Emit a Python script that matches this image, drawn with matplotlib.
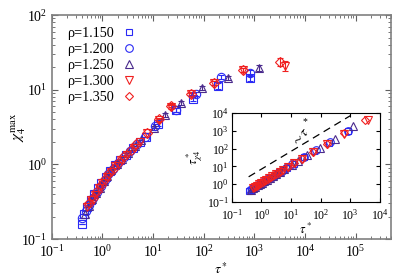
import numpy as np
import matplotlib.pyplot as plt
from matplotlib.lines import Line2D

plt.rcParams['font.family'] = ['Liberation Serif', 'DejaVu Serif']
plt.rcParams['mathtext.fontset'] = 'stix'

# rho = 1.150 (squares)
tau_a = [0.39, 0.44, 0.50, 0.58, 0.68, 0.80, 0.95, 1.15, 1.40, 1.75, 2.2, 2.9, 4.0, 5.4, 7.3, 12.5, 28, 60, 190, 830]
chi_a = [0.16, 0.22, 0.27, 0.33, 0.40, 0.48, 0.56, 0.68, 0.82, 0.98, 1.15, 1.35, 1.65, 2.0, 2.35, 3.5, 5.4, 7.6, 11.3, 14.5]
err_a = [0, 0, 0, 0, 0, 0, 0, 0, 0, 0, 0, 0, 0, 0, 0, 0.2, 0.3, 0.5, 1.2, 1.5]
tch_a = [0.42, 0.5, 0.58, 0.68, 0.8, 0.95, 1.12, 1.35, 1.65, 2.05, 2.6, 3.4, 4.7, 6.3, 8.5, 14.5, 32, 70, 220, 950]
# rho = 1.200 (circles)
tau_b = [0.40, 0.47, 0.55, 0.65, 0.77, 0.92, 1.1, 1.3, 1.6, 2.0, 2.6, 3.5, 4.8, 6.8, 11, 28, 70, 215, 830]
chi_b = [0.19, 0.24, 0.29, 0.36, 0.43, 0.52, 0.62, 0.75, 0.88, 1.05, 1.25, 1.5, 1.85, 2.3, 3.3, 5.4, 8.8, 14.8, 17]
err_b = [0, 0, 0, 0, 0, 0, 0, 0, 0, 0, 0, 0, 0, 0, 0.2, 0.3, 0.5, 1.0, 1.5]
tch_b = [0.45, 0.54, 0.64, 0.76, 0.9, 1.08, 1.3, 1.52, 1.88, 2.35, 3.05, 4.1, 5.6, 8.0, 12.8, 33, 82, 250, 1000]
# rho = 1.250 (up triangles)
tau_c = [0.45, 0.53, 0.62, 0.74, 0.88, 1.05, 1.25, 1.5, 1.9, 2.4, 3.2, 4.3, 5.8, 10.5, 17, 35, 92, 295, 1250]
chi_c = [0.22, 0.28, 0.34, 0.41, 0.49, 0.6, 0.71, 0.84, 1.0, 1.2, 1.42, 1.75, 2.1, 3.1, 4.6, 6.7, 10.5, 14.4, 19.6]
err_c = [0, 0, 0, 0, 0, 0, 0, 0, 0, 0, 0, 0, 0, 0.2, 0.3, 0.4, 0.6, 1.0, 1.6]
tch_c = [0.5, 0.6, 0.72, 0.86, 1.02, 1.22, 1.45, 1.75, 2.2, 2.8, 3.7, 5.0, 6.8, 12.3, 20, 41, 110, 350, 1850]
# rho = 1.300 (down triangles)
tau_d = [0.5, 0.6, 0.7, 0.85, 1.0, 1.2, 1.45, 1.8, 2.3, 3.0, 4.1, 5.5, 7.6, 13, 23, 55, 160, 600, 4000]
chi_d = [0.27, 0.33, 0.39, 0.48, 0.57, 0.68, 0.8, 0.95, 1.15, 1.35, 1.65, 2.0, 2.6, 3.9, 5.9, 8.7, 12.2, 18.3, 21]
err_d = [0, 0, 0, 0, 0, 0, 0, 0, 0, 0, 0, 0, 0, 0.2, 0.3, 0.4, 0.7, 1.2, 3.0]
tch_d = [0.6, 0.72, 0.84, 1.02, 1.2, 1.44, 1.74, 2.15, 2.75, 3.6, 4.9, 6.6, 9.1, 15.6, 27, 65, 190, 700, 4300]
# rho = 1.350 (diamonds)
tau_e = [0.55, 0.65, 0.78, 0.93, 1.1, 1.35, 1.65, 2.1, 2.7, 3.6, 4.6, 7.6, 13, 23, 55, 158, 600, 3200]
chi_e = [0.3, 0.36, 0.44, 0.53, 0.63, 0.76, 0.9, 1.08, 1.3, 1.55, 1.9, 2.6, 4.0, 6.1, 8.9, 12.3, 18.5, 23.5]
err_e = [0, 0, 0, 0, 0, 0, 0, 0, 0, 0, 0, 0, 0.2, 0.3, 0.4, 0.7, 1.2, 2.8]
tch_e = [0.66, 0.78, 0.94, 1.12, 1.32, 1.62, 1.98, 2.5, 3.25, 4.3, 5.5, 9.1, 15.6, 27.5, 65, 190, 720, 4000]

labels = ['ρ=1.150', 'ρ=1.200', 'ρ=1.250', 'ρ=1.300', 'ρ=1.350']
# guide line ~ tau*
guide_x = [0.37, 1000]
guide_y = [2.6, 7000]

taus = [tau_a, tau_b, tau_c, tau_d, tau_e]
chis = [chi_a, chi_b, chi_c, chi_d, chi_e]
errs = [err_a, err_b, err_c, err_d, err_e]
tchs = [tch_a, tch_b, tch_c, tch_d, tch_e]
markers = ['s', 'o', '^', 'v', 'D']
sizes = [5.5, 6, 6, 6, 5]
colors = ['#2a2af5', '#2a2af5', '#4a2a8c', '#f02020', '#f02020']

fig = plt.figure(figsize=(3.99, 2.79), dpi=100)
ax = fig.add_axes([0.130, 0.143, 0.850, 0.803])
handles = []
for t, c, e, m, s, col, lab in zip(taus, chis, errs, markers, sizes, colors, labels):
    ax.errorbar(t, c, yerr=e, fmt=m, ms=s, mfc='none', mec=col, mew=0.8,
                ecolor=col, elinewidth=0.8, capsize=2, capthick=0.8)
    handles.append(Line2D([], [], ls='none', marker=m, ms=s - 0.5, mfc='none',
                          mec=col, mew=0.8, label=lab))
ax.set_xscale('log')
ax.set_yscale('log')
ax.set_xlim(0.1, 5e5)
ax.set_ylim(0.1, 100)
ax.set_xticks([1e-1, 1e0, 1e1, 1e2, 1e3, 1e4, 1e5])
ax.set_yticks([1e-1, 1e0, 1e1, 1e2])
ax.tick_params(which='both', direction='in', top=True, right=True, labelsize=10, color='#606060')
ax.tick_params(which='major', length=4)
ax.tick_params(which='minor', length=2)
for sp in ax.spines.values():
    sp.set_color('#808080')
    sp.set_linewidth(1.2)
ax.set_xlabel(r'$\tau^*$', fontsize=10, labelpad=1)
ax.set_ylabel(r'$\chi_4^{\rm max}$', fontsize=11)
ax.yaxis.set_label_coords(-0.07, 0.5)
ax.legend(handles=handles, loc='upper left', frameon=False, markerfirst=False, fontsize=10.2,
          handlelength=1.0, handletextpad=0.6, labelspacing=0.2,
          borderaxespad=0.3, bbox_to_anchor=(0.015, 0.99))

# inset
axi = fig.add_axes([0.581, 0.276, 0.371, 0.319])
for t, tc, m, s, col in zip(taus, tchs, markers, sizes, colors):
    axi.plot(t, tc, m, ms=s - 0.5, mfc='none', mec=col, mew=0.8)
axi.plot(guide_x, guide_y, '--', color='k', lw=0.9, dashes=(6, 4))
axi.set_xscale('log')
axi.set_yscale('log')
axi.set_xlim(0.1, 1e4)
axi.set_ylim(0.1, 1e4)
axi.set_xticks([1e-1, 1e0, 1e1, 1e2, 1e3, 1e4])
axi.set_yticks([1e-1, 1e0, 1e1, 1e2, 1e3, 1e4])
axi.tick_params(which='both', direction='in', top=True, right=True, labelsize=8.5, pad=2)
axi.tick_params(axis='x', pad=4)
axi.tick_params(which='major', length=3)
axi.tick_params(which='minor', length=1.5)
axi.set_xlabel(r'$\tau^*$', fontsize=9, labelpad=0)
axi.set_ylabel(r'$\tau^*_{\chi 4}$', fontsize=9, labelpad=1)
axi.text(22, 450, r'$\sim\tau$', fontsize=10, rotation=50, ha='center', va='center')
axi.text(30, 3500, '*', fontsize=7, ha='center', va='center')

fig.savefig('out.png', dpi=100)
